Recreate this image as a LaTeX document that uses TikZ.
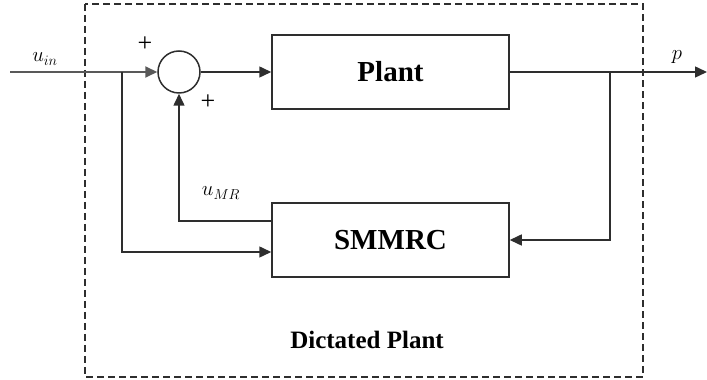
\documentclass[tikz,border=0pt]{standalone}
\usepackage{fontspec}
\setmainfont{Liberation Serif}
\usetikzlibrary{arrows.meta,positioning,calc}
\definecolor{lineInk}{HTML}{2E2E2E}

\begin{document}
\begin{tikzpicture}[x=1pt,y=1pt,line width=1.5pt,draw=lineInk]
    \tikzset{block/.style={draw=lineInk,minimum width=237pt,minimum height=74pt,inner sep=0pt,font=\fontsize{29}{34}\selectfont\bfseries},
      sumnode/.style={draw=lineInk,circle,minimum size=42pt,inner sep=0pt},
      flow/.style={-{Triangle[length=12pt,width=11pt]},lineInk},
      lbl/.style={font=\fontsize{22}{26}\selectfont}}
    \useasboundingbox (0,0) rectangle (707,380);
    \draw[dash pattern=on 7pt off 4pt,line width=1.4pt] (85,376) rectangle (643,3);
    \node[sumnode] (s) at (179,308) {};
    \node[block] (pl) at (390.5,308) {Plant};
    \node[block] (mr) at (390.5,140) {SMMRC};
    \coordinate (in) at (10,308);
    \coordinate (br) at (122,308);
    \coordinate (jn) at (610,308);
    \coordinate (out) at (707,308);
    \draw[flow,line width=2pt,draw=black!65] (in) -- (s.west);
    \draw[flow] (s.east) -- (pl.west);
    \draw[flow] (pl.east) -- (out);
    \draw[flow] (jn) |- (mr.east);
    \draw[flow] ($(mr.west)+(0,19)$) -| (s.south);
    \draw[flow] (br) |- ($(mr.west)+(0,-12)$);
    \node[lbl] (lin) at (45,321) {$u_{in}$};
    \node[lbl] (lp) at (677,323) {$p$};
    \node[lbl] (lmr) at (221,187) {$u_{MR}$};
    \node[font=\fontsize{26}{30}\selectfont] (pa) at (145,336) {+};
    \node[font=\fontsize{26}{30}\selectfont] (pb) at (208,278) {+};
    \node[font=\fontsize{25}{30}\selectfont\bfseries] (dp) at (367,40) {Dictated Plant};
  \end{tikzpicture}
\end{document}
